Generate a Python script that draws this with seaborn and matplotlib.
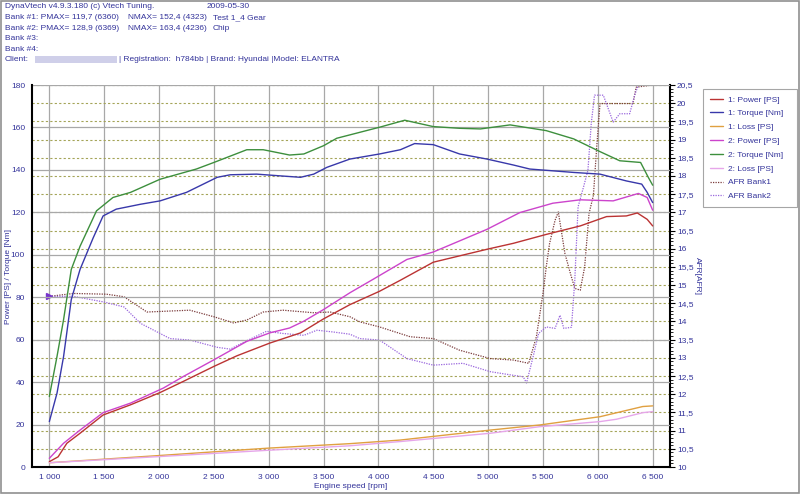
import matplotlib
matplotlib.use("Agg")
import matplotlib.pyplot as plt
import matplotlib.patches as patches
from matplotlib.ticker import FuncFormatter, MultipleLocator
import seaborn as sns

# ---- data ----
rpm_torque1 = [1000, 1070, 1130, 1200, 1280, 1400, 1490, 1610, 1830, 2010, 2250, 2530, 2650, 2890,
               3100, 3290, 3410, 3530, 3740, 4010, 4200, 4330, 4500, 4740, 4990, 5230, 5380, 5780,
               6020, 6260, 6400, 6450, 6500]
torque1 = [21.4, 34.8, 52.1, 78.9, 93.1, 108.0, 118.3, 121.5, 123.8, 125.4, 129.4, 136.5, 137.7, 138.0,
           137.2, 136.5, 138.0, 141.2, 145.1, 147.5, 149.5, 152.4, 151.9, 147.5, 145.1, 142.3, 140.4, 138.8,
           138.0, 134.8, 133.3, 129.4, 124.6]

rpm_torque2 = [1000, 1070, 1130, 1200, 1280, 1430, 1580, 1740, 2010, 2340, 2500, 2800, 2950, 3190, 3320,
               3500, 3620, 3830, 4010, 4240, 4500, 4740, 4930, 5200, 5530, 5780, 6020, 6200, 6390, 6460, 6500]
torque2 = [33.2, 52.1, 69.5, 93.1, 104.0, 120.7, 127.0, 129.4, 135.6, 140.4, 143.5, 149.5, 149.5, 147.0, 147.5,
           151.4, 154.9, 157.7, 160.1, 163.4, 160.4, 159.6, 159.3, 161.2, 158.5, 154.6, 148.6, 144.3, 143.5, 136.5, 132.8]

rpm_power1 = [1000, 1080, 1160, 1280, 1490, 1740, 2010, 2220, 2500, 2710, 3010, 3290, 3500, 3740, 4010,
              4200, 4500, 4990, 5230, 5530, 5840, 6080, 6260, 6360, 6450, 6500]
power1 = [2.5, 4.8, 11.2, 15.9, 24.5, 29.3, 35.1, 40.3, 47.4, 52.4, 58.4, 63.2, 69.8, 76.5, 82.8,
          88.0, 96.5, 102.6, 105.4, 109.6, 113.6, 118.0, 118.3, 119.7, 116.7, 113.6]

rpm_power2 = [1000, 1130, 1280, 1490, 1740, 2040, 2220, 2500, 2800, 3010, 3190, 3320, 3500, 3740, 3950,
              4260, 4500, 4990, 5290, 5590, 5840, 6140, 6370, 6450, 6500]
power2 = [4.1, 11.2, 17.4, 25.6, 30.1, 37.2, 42.6, 50.5, 59.2, 63.2, 65.5, 68.7, 74.2, 82.1, 88.4,
          97.8, 101.3, 112.0, 119.9, 124.3, 125.9, 125.4, 128.9, 127.0, 121.0]

rpm_loss1 = [1000, 2000, 3000, 3740, 4200, 5020, 5470, 6020, 6410, 6500]
loss1 = [2.0, 5.4, 8.9, 11.0, 12.7, 17.4, 19.8, 23.7, 28.5, 28.8]

rpm_loss2 = [1000, 2000, 3000, 3740, 4200, 5020, 5470, 6020, 6170, 6410, 6500]
loss2 = [2.0, 4.9, 7.9, 10.0, 12.0, 15.9, 19.0, 21.4, 22.5, 25.6, 26.1]

rpm_afr1 = [1000, 1220, 1520, 1680, 1890, 2280, 2500, 2680, 2800, 2950, 3130, 3410, 3560, 3740, 3830,
            4010, 4290, 4500, 4740, 5020, 5230, 5370, 5440, 5500, 5530, 5560, 5610, 5640, 5700, 5750,
            5790, 5840, 5880, 5920, 5960, 5990, 6020, 6320, 6350, 6500]
afr1 = [14.69, 14.77, 14.75, 14.68, 14.26, 14.31, 14.13, 13.96, 14.04, 14.26, 14.31, 14.24, 14.26, 14.13, 13.99,
        13.85, 13.58, 13.53, 13.21, 12.98, 12.94, 12.85, 13.58, 14.77, 15.50, 16.14, 16.78, 17.01, 15.87, 15.32,
        14.91, 14.86, 15.50, 16.97, 17.47, 18.80, 19.99, 19.99, 20.44, 20.50]

rpm_afr2 = [1000, 1220, 1490, 1680, 1830, 2100, 2280, 2530, 2650, 2800, 2980, 3130, 3320, 3440, 3590,
            3740, 3830, 4010, 4260, 4500, 4770, 5020, 5230, 5320, 5350, 5410, 5460, 5530, 5610, 5655,
            5690, 5760, 5790, 5820, 5870, 5910, 5940, 5970, 6050, 6140, 6200, 6290, 6340, 6370, 6500]
afr2 = [14.69, 14.69, 14.54, 14.40, 13.95, 13.53, 13.49, 13.29, 13.24, 13.47, 13.73, 13.67, 13.62, 13.76, 13.71,
        13.65, 13.53, 13.49, 12.98, 12.80, 12.85, 12.62, 12.52, 12.48, 12.31, 13.03, 13.67, 13.85, 13.81, 14.17,
        13.81, 13.84, 15.13, 17.15, 17.70, 18.16, 19.44, 20.22, 20.22, 19.48, 19.71, 19.71, 20.26, 20.50, 20.50]

header_lines = [
    ("DynaVtech v4.9.3.180 (c) Vtech Tuning.", "", "2009-05-30"),
    ("Bank #1: PMAX= 119,7 (6360)", "NMAX= 152,4 (4323)", "Test 1_4 Gear"),
    ("Bank #2: PMAX= 128,9 (6369)", "NMAX= 163,4 (4236)", "Chip"),
    ("Bank #3:", "", ""),
    ("Bank #4:", "", ""),
]
client_tail = "| Registration:  h784bb | Brand: Hyundai |Model: ELANTRA"

NAVY = "#33339a"
FS = 6.0

sns.set_style("white")
plt.rcParams["font.family"] = ["Liberation Sans", "DejaVu Sans"]

fig = plt.figure(figsize=(8, 4.94), dpi=100)
ax2 = fig.add_axes([32 / 800, 1 - 467 / 494, 638 / 800, 382 / 494])
ax = ax2.figure.add_axes(ax2.get_position(), sharex=ax2)
ax.set_zorder(ax2.get_zorder() + 1)
ax.patch.set_visible(False)

# AFR axis (right, below) with the olive dashed grid
ax2.set_ylim(10, 20.5)
ax2.yaxis.tick_right()
ax2.yaxis.set_label_position("right")
ax2.yaxis.set_major_locator(MultipleLocator(0.5))
ax2.yaxis.set_minor_locator(MultipleLocator(0.1))
ax2.yaxis.set_major_formatter(FuncFormatter(lambda v, p: f"{v:g}".replace(".", ",")))
ax2.grid(axis="y", color="#a4a458", linestyle=(0, (2, 2)), linewidth=0.8)
ax2.grid(axis="x", color="#a8a8a8", linewidth=0.9)

sns.lineplot(x=rpm_afr1, y=afr1, ax=ax2, color="#7a3b3b", lw=0.9, linestyle=(0, (1, 1)),
             estimator=None, sort=False, label="AFR Bank1")
sns.lineplot(x=rpm_afr2, y=afr2, ax=ax2, color="#9966dd", lw=0.9, linestyle=(0, (1, 1)),
             estimator=None, sort=False, label="AFR Bank2")
ax2.plot(rpm_afr2[:1], afr2[:1], marker=">", color="#7733cc", markersize=4, lw=0)

# power / torque axis (left, on top)
ax.set_xlim(842, 6658)
ax.set_ylim(0, 180)
ax.yaxis.set_major_locator(MultipleLocator(20))
ax.yaxis.set_minor_locator(MultipleLocator(5))
ax.xaxis.set_major_locator(MultipleLocator(500))
ax.xaxis.set_minor_locator(MultipleLocator(100))
ax.xaxis.set_major_formatter(FuncFormatter(lambda v, p: f"{v:,.0f}".replace(",", " ")))
ax.grid(axis="y", color="#a8a8a8", linewidth=0.9)

series = [
    (rpm_power1, power1, "#bb3333", "1: Power [PS]"),
    (rpm_torque1, torque1, "#3838aa", "1: Torque [Nm]"),
    (rpm_loss1, loss1, "#e0a040", "1: Loss [PS]"),
    (rpm_power2, power2, "#cc44cc", "2: Power [PS]"),
    (rpm_torque2, torque2, "#3d8f3d", "2: Torque [Nm]"),
    (rpm_loss2, loss2, "#e6a6ea", "2: Loss [PS]"),
]
for xs, ys, col, name in series:
    sns.lineplot(x=xs, y=ys, ax=ax, color=col, lw=1.0, estimator=None, sort=False, label=name)

for a in (ax, ax2):
    a.tick_params(which="both", direction="out", colors="black", labelcolor=NAVY, labelsize=FS, pad=1.5)
    a.tick_params(which="major", length=3.5, width=0.8)
    a.tick_params(which="minor", length=2, width=0.6)
    for s in a.spines.values():
        s.set_visible(False)
ax2.tick_params(axis="x", which="both", bottom=False, labelbottom=False)
ax.tick_params(axis="y", which="both", right=False)
ax.tick_params(axis="x", which="both", top=False)
for side in ("left", "bottom"):
    ax.spines[side].set_visible(True)
    ax.spines[side].set_linewidth(1.5)
    ax.spines[side].set_color("black")
ax2.spines["right"].set_visible(True)
ax2.spines["right"].set_linewidth(1.5)
ax2.spines["right"].set_color("black")

ax.set_xlabel("Engine speed [rpm]", fontsize=FS, color=NAVY)
ax.xaxis.set_label_coords(0.5, -0.043)
ax.set_ylabel("Power [PS] / Torque [Nm]", fontsize=FS, color=NAVY)
ax.yaxis.set_label_coords(-0.031, 0.5)
ax2.set_ylabel("AFR[AFR]", fontsize=FS, color=NAVY, rotation=270, va="bottom")
ax2.yaxis.set_label_coords(1.037, 0.5)

# legend outside on the right
h1, l1 = ax.get_legend_handles_labels()
h2, l2 = ax2.get_legend_handles_labels()
ax.get_legend().remove()
ax2.get_legend().remove()
leg = fig.legend(h1 + h2, l1 + l2, loc="upper left",
                 bbox_to_anchor=(703 / 800, 1 - 89 / 494, 94 / 800, 0.0), mode="expand",
                 frameon=True, fancybox=False, edgecolor="#909090", fontsize=FS, labelcolor=NAVY,
                 handlelength=1.6, handletextpad=0.6, labelspacing=0.72, borderpad=0.8, borderaxespad=0)
leg.get_frame().set_linewidth(0.8)

# header block
ys_px = [6.7, 17.3, 28.0, 38.7, 49.3]
for yp, (c1, c2, c3) in zip(ys_px, header_lines):
    for xp, txt in ((5, c1), (128, c2), (207 if c1.startswith("Dyna") else 213, c3)):
        if txt:
            fig.text(xp / 800, 1 - yp / 494, txt, fontsize=FS, color=NAVY, va="center", ha="left")
fig.text(5 / 800, 1 - 59.5 / 494, "Client:", fontsize=FS, color=NAVY, va="center")
fig.patches.append(patches.Rectangle((35 / 800, 1 - 63 / 494), 82 / 800, 7 / 494,
                                     transform=fig.transFigure, facecolor="#c4c4e4", edgecolor="none",
                                     alpha=0.8))
fig.text(119 / 800, 1 - 59.5 / 494, client_tail, fontsize=FS, color=NAVY, va="center")

# outer frame of the sheet
fig.patches.append(patches.Rectangle((0.001, 0.002), 0.998, 0.996, transform=fig.transFigure,
                                     facecolor="none", edgecolor="#909090", linewidth=1.2))

fig.savefig("out.png", dpi=100)
